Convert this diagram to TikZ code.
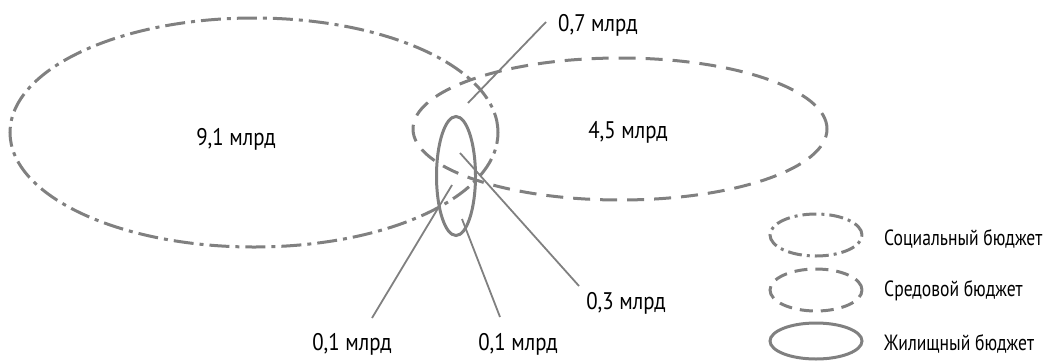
\documentclass[tikz,border=0pt]{standalone}
\usepackage{fontspec}
\setmainfont{PT Sans}[FakeStretch=0.87]
\newfontfamily\legfont{PT Sans}[FakeStretch=0.8]
\usetikzlibrary{shapes.geometric}
\definecolor{lgray}{HTML}{808080}
\tikzset{
  ell/.style={ellipse, inner sep=0pt, draw=lgray, line width=3pt},
  socialline/.style={dash pattern=on 20pt off 6pt on 4pt off 6pt},
  envline/.style={dash pattern=on 17pt off 10pt},
  leader/.style={draw=lgray, line width=1.8pt},
  lbl/.style={inner sep=0pt, font=\fontsize{24}{24}\selectfont},
  leg/.style={inner sep=0pt, anchor=west, font=\legfont\fontsize{22}{22}\selectfont},
}
\begin{document}
\begin{tikzpicture}[x=1pt,y=-1pt]
\useasboundingbox (0,0) rectangle (1051,362);
% main ellipses
\node[ell, socialline, minimum width=488pt, minimum height=229pt] (soc) at (254,132.5) {};
\node[ell, envline, minimum width=414pt, minimum height=142pt] (env) at (620,129) {};
\node[ell, minimum width=39pt, minimum height=119pt] (hous) at (456,176) {};
% values
\node[lbl] (v91) at (236,139) {9,1 млрд};
\node[lbl] (v45) at (628,132) {4,5 млрд};
\node[lbl, anchor=west] (v07) at (558,25) {0,7 млрд};
\node[lbl] (v03) at (626,303) {0,3 млрд};
\node[lbl] (v01a) at (352,344) {0,1 млрд};
\node[lbl] (v01b) at (518,344) {0,1 млрд};
% leader ends
\coordinate (p07) at (468,103);
\coordinate (q07) at (546,22);
\coordinate (p03) at (460,153);
\coordinate (q03) at (579,286);
\coordinate (p01b) at (462,219);
\coordinate (q01b) at (500,317);
\coordinate (p01a) at (452,185);
\coordinate (q01a) at (372,318);
\draw[leader] (p07) -- (q07);
\draw[leader] (p03) -- (q03);
\draw[leader] (p01b) -- (q01b);
\draw[leader] (p01a) -- (q01a);
% legend
\node[ell, dash pattern=on 14pt off 5pt on 3pt off 5pt, minimum width=92pt, minimum height=42pt] (lsoc) at (816,235) {};
\node[ell, dash pattern=on 13pt off 8pt, minimum width=92pt, minimum height=42pt] (lenv) at (816,290) {};
\node[ell, minimum width=92pt, minimum height=36pt] (lhous) at (816,341) {};
\node[leg] (tsoc) at (884,239) {Социальный бюджет};
\node[leg] (tenv) at (884,291) {Средовой бюджет};
\node[leg] (thous) at (884,344) {Жилищный бюджет};
\end{tikzpicture}
\end{document}
